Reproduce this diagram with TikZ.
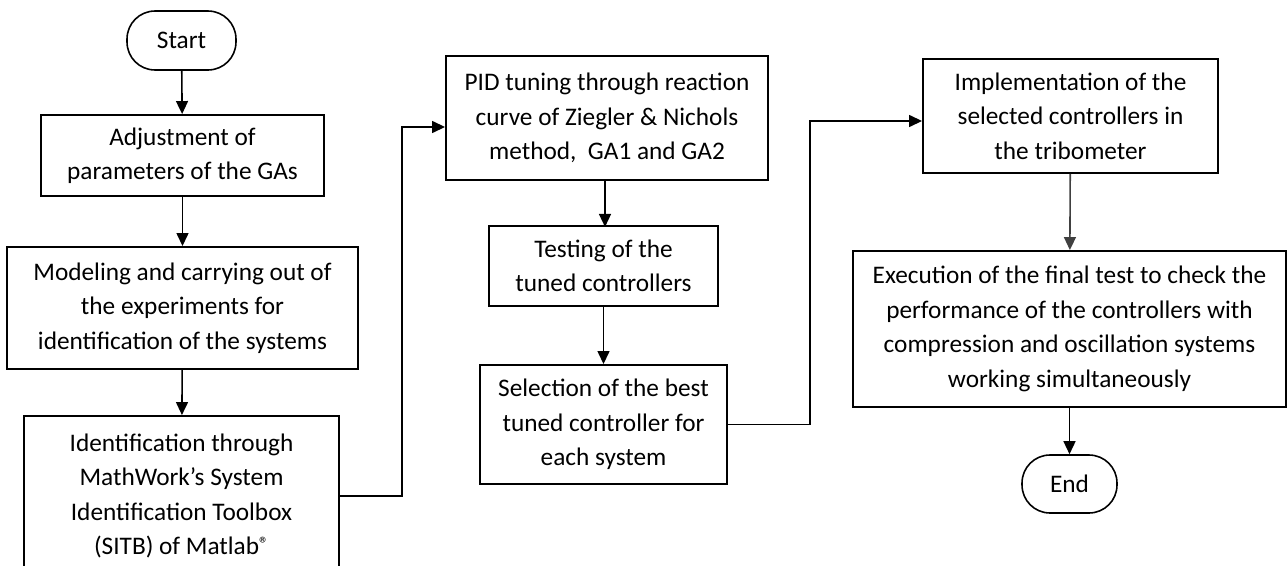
\documentclass[tikz,border=0pt]{standalone}
\usepackage{fontspec}
\setmainfont{Carlito}
\usepackage{tikz}
\usetikzlibrary{arrows.meta}

\begin{document}
\begin{tikzpicture}[x=0.02cm,y=-0.02cm,
    every node/.style={font=\fontsize{14.4}{19.6}\selectfont,align=center,inner sep=0pt},
    stepbox/.style={draw,line width=1.1pt},
    termbox/.style={draw,line width=0.9pt,rounded corners=0.56cm},
    flow/.style={line width=0.9pt,-{Triangle[length=7.4pt,width=6.8pt]}}]
          \useasboundingbox (0,0) rectangle (1288,565);
          % left column
          \node[termbox,minimum width=2.18cm,minimum height=1.18cm] (start) at (181.5,40.5) {Start};
          \node[stepbox,minimum width=5.66cm,minimum height=1.62cm] (adjust) at (182.5,155.5) {Adjustment of\\parameters of the GAs};
          \node[stepbox,minimum width=7.02cm,minimum height=2.44cm] (model) at (182.5,308) {Modeling and carrying out of\\the experiments for\\identification of the systems};
          \node[stepbox,minimum width=6.30cm,minimum height=3.20cm] (ident) at (181.5,496) {Identification through\\MathWork’s System\\Identification Toolbox\\(SITB) of Matlab\raisebox{0.35ex}{\fontsize{11}{11}\selectfont ®}};
          % middle column
          \node[stepbox,minimum width=6.44cm,minimum height=2.48cm] (pid) at (607,118) {PID tuning through reaction\\curve of Ziegler \& Nichols\\method,~ GA1 and GA2};
          \node[stepbox,minimum width=4.58cm,minimum height=1.60cm] (test) at (603.5,266) {Testing of the\\tuned controllers};
          \node[stepbox,minimum width=4.94cm,minimum height=2.38cm] (select) at (603.5,424.5) {Selection of the best\\tuned controller for\\each system};
          % right column
          \node[stepbox,minimum width=5.90cm,minimum height=2.28cm] (impl) at (1070.5,116) {Implementation of the\\selected controllers in\\the tribometer};
          \node[stepbox,minimum width=8.66cm,minimum height=3.12cm] (exec) at (1069.5,329) {Execution of the final test to check the\\performance of the controllers with\\compression and oscillation systems\\working simultaneously};
          \node[termbox,minimum width=1.90cm,minimum height=1.16cm] (end) at (1069.5,484) {End};

          \coordinate (k1) at (402,127);
          \coordinate (k2) at (810,121);

          \draw[flow] (start) -- (adjust);
          \draw[flow] (adjust) -- (model);
          \draw[flow] (model) -- (ident);
          \draw[flow] (ident.east) -| (k1) -- (k1 -| pid.west);
          \draw[flow] (pid.south -| test.north) ++(1.5,0) -- ++(0,46);
          \draw[flow] (test) -- (select);
          \draw[flow] (select.east) -| (k2) -- (k2 -| impl.west);
          \draw[flow,black!75] (impl) -- (exec);
          \draw[flow] (exec) -- (end);
        \end{tikzpicture}
\end{document}
